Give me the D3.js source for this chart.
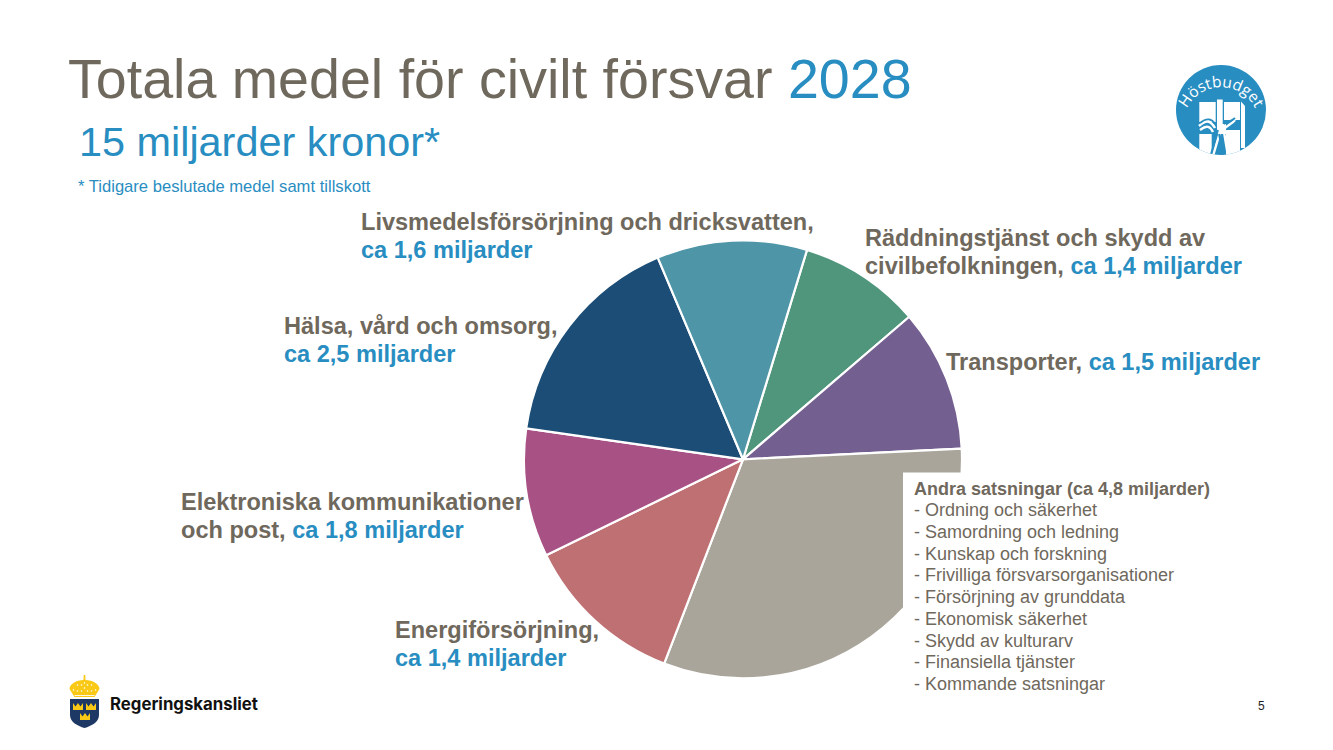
<!DOCTYPE html>
<html><head><meta charset="utf-8">
<script src="https://cdn.jsdelivr.net/npm/d3@7"></script>
<style>html,body{margin:0;padding:0;background:#fff}svg{display:block}text{font-family:"Liberation Sans",Arial,sans-serif}</style>
</head><body><svg id="c" width="1333" height="750"></svg>
<script>
const sliceNames=["Räddningstjänst","Transporter","Andra satsningar","Energiförsörjning","Elektroniska kommunikationer","Hälsa, vård och omsorg","Livsmedelsförsörjning"];
const sliceValues=[1.35,1.575,4.746,1.788,1.42,2.458,1.663];
const sliceColors=["#4f967c","#745f91","#a9a59a","#bf7073","#a85185","#1b4d76","#4e95a7"];
const listItems=["- Ordning och säkerhet","- Samordning och ledning","- Kunskap och forskning","- Frivilliga försvarsorganisationer","- Försörjning av grunddata","- Ekonomisk säkerhet","- Skydd av kulturarv","- Finansiella tjänster","- Kommande satsningar"];
const GREY="#6f685c",BLUE="#288dc1";
const labels=[
 {x:361,y:230.4,lines:[[["Livsmedelsförsörjning och dricksvatten,",GREY]],[["ca 1,6 miljarder",BLUE]]]},
 {x:865,y:246.2,lines:[[["Räddningstjänst och skydd av",GREY]],[["civilbefolkningen, ",GREY],["ca 1,4 miljarder",BLUE]]]},
 {x:946,y:370.4,lines:[[["Transporter, ",GREY],["ca 1,5 miljarder",BLUE]]]},
 {x:284,y:334.4,lines:[[["Hälsa, vård och omsorg,",GREY]],[["ca 2,5 miljarder",BLUE]]]},
 {x:181,y:510.4,lines:[[["Elektroniska kommunikationer",GREY]],[["och post, ",GREY],["ca 1,8 miljarder",BLUE]]]},
 {x:395,y:638.4,lines:[[["Energiförsörjning,",GREY]],[["ca 1,4 miljarder",BLUE]]]}
];
const svg=d3.select("#c");
const startDeg=17.0;
const pie=d3.pie().sort(null).value(d=>d).startAngle(startDeg*Math.PI/180).endAngle((startDeg+360)*Math.PI/180);
const arc=d3.arc().innerRadius(0).outerRadius(219);
svg.append("g").attr("transform","translate(743,459.3)").selectAll("path").data(pie(sliceValues)).join("path")
 .attr("d",arc).attr("fill",(d,i)=>sliceColors[i]).attr("stroke","#fff").attr("stroke-width",2.2).attr("stroke-linejoin","round");
svg.append("rect").attr("x",903).attr("y",472.5).attr("width",80).attr("height",225).attr("fill","#fff");
svg.append("text").attr("x",68).attr("y",98).attr("font-size",55.6).attr("fill",GREY).text("Totala medel för civilt försvar ").append("tspan").attr("fill",BLUE).text("2028");
svg.append("text").attr("x",79).attr("y",156).attr("font-size",41.4).attr("fill",BLUE).text("15 miljarder kronor*");
svg.append("text").attr("x",78).attr("y",192).attr("font-size",16.6).attr("fill",BLUE).text("* Tidigare beslutade medel samt tillskott");
labels.forEach(l=>{l.lines.forEach((ln,i)=>{
 const t=svg.append("text").attr("x",l.x).attr("y",l.y+i*27.7).attr("font-size",23.55).attr("font-weight","bold");
 ln.forEach(s=>t.append("tspan").attr("fill",s[1]).text(s[0]));
});});
svg.append("text").attr("x",914).attr("y",494.7).attr("font-size",18).attr("font-weight","bold").attr("fill",GREY).text("Andra satsningar (ca 4,8 miljarder)");
svg.append("g").selectAll("text").data(listItems).join("text").attr("x",914).attr("y",(d,i)=>516.3+i*21.7).attr("font-size",18).attr("fill",GREY).text(d=>d);
svg.append("text").attr("x",1258).attr("y",710).attr("font-size",12).attr("fill","#222").text("5");
// Höstbudget badge
const b=svg.append("g").attr("transform","translate(1221,110)");
b.append("clipPath").attr("id","bc").append("circle").attr("r",45);
b.append("circle").attr("r",45).attr("fill",BLUE);
b.append("defs").append("path").attr("id","bp").attr("d","M-36,3A38,38 0 0 1 36,3");
b.append("text").attr("style","font-family:'Open Sans'").attr("font-size",15.5).attr("fill","#fff").append("textPath").attr("href","#bp").attr("startOffset","50%").attr("text-anchor","middle").text("Höstbudget");
const g=b.append("g").attr("clip-path","url(#bc)");
g.append("path").attr("fill","#fff").attr("d","M-21.7,-8H-5.3V12H-21.7ZM-21.7,24H-9.3V45H-21.7ZM-4,-10.5H1.7V16H-4ZM3,-8H19V10H3ZM5,20H19V45H5ZM20,-8.5L24,-4V38H20Z");
g.append("path").attr("fill","#fff").attr("d","M-4,14H5V24H-4Z");
g.append("path").attr("fill","none").attr("stroke","#fff").attr("stroke-width",2.4).attr("d","M-22,16C-14,9-10,11-6,18M-21,20C-14,15-11,16-8,22M14,10C10,15 6,15 2,20M-1,22L-8,46M3,22L7,46");
g.append("path").attr("fill","none").attr("stroke",BLUE).attr("stroke-width",1.8).attr("d","M-21,13C-14,7-9,9-6,14M-3,20L-10,44M3,14C7,12 11,11 14,8M-2,24L2,46");
// Regeringskansliet logo
const r=svg.append("g").attr("transform","translate(84.5,0)");
r.append("path").attr("fill","#1d3864").attr("d","M-14.5,699H14.5V715C14.5,722 7,726 0,728C-7,726-14.5,722-14.5,715Z");
r.append("path").attr("fill","#f9c916").attr("d","M-10,697L-15,689C-15,684-8,680-1,680L-.8,675H.8L1,680C8,680 15,684 15,689L10,697Z");
r.append("g").selectAll("circle").data([[-11,690],[-7,691],[-3,691],[3,691],[7,691],[11,690],[-7,685],[-3,685],[3,685],[7,685],[0,688],[0,683]]).join("circle").attr("cx",d=>d[0]).attr("cy",d=>d[1]).attr("r",.8).attr("fill","#fff");
r.append("rect").attr("x",-10).attr("y",695).attr("width",20).attr("height",.9).attr("fill","#fff");
const crown=[[-6.5,703],[6.5,703],[0.5,713]];
r.selectAll(".cr").data(crown).join("path").attr("fill","#f9c916").attr("d",d=>`M${d[0]-5},${d[1]}l2.5,3.5 l2.5,-3.5 l2.5,3.5 l2.5,-3.5 v7 h-10z`);
svg.append("text").attr("x",110).attr("y",710).attr("font-size",16.8).attr("font-weight","700").attr("fill","#111").attr("style","font-family:Inter").text("Regeringskansliet");
</script></body></html>
